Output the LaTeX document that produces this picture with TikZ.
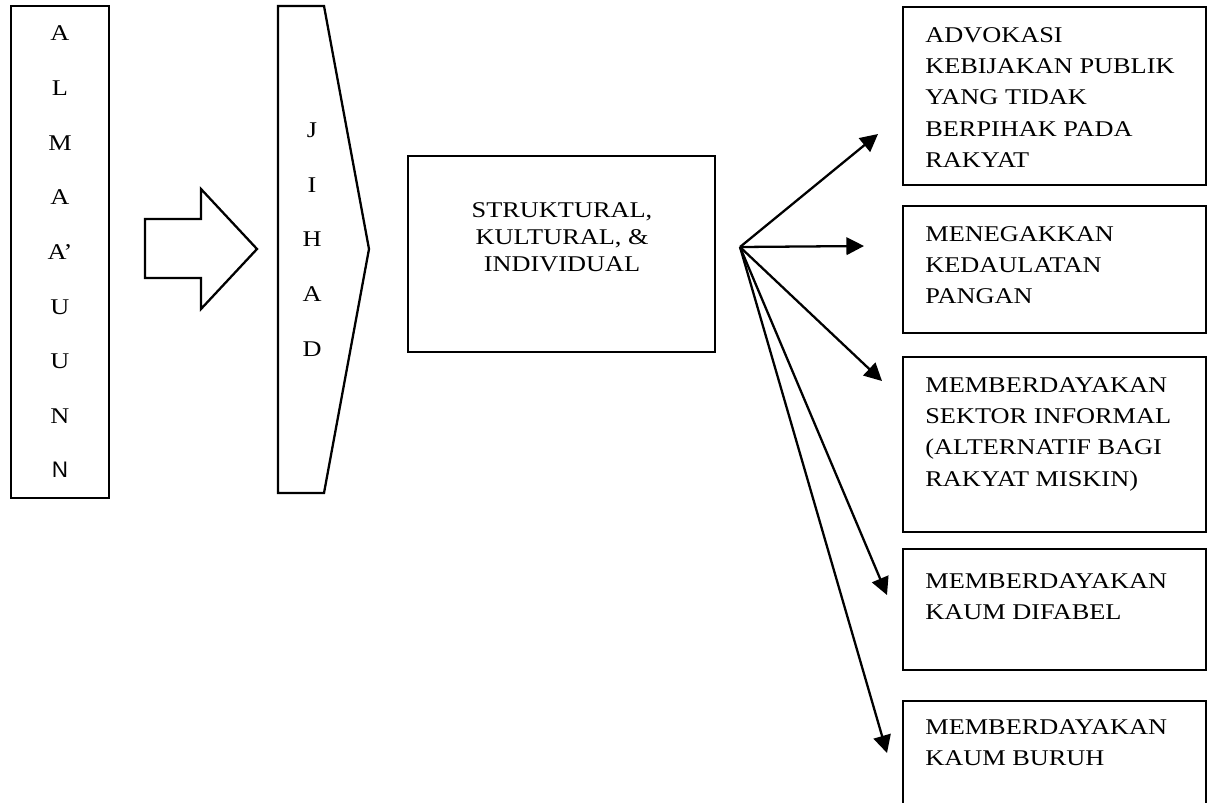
\documentclass[tikz,border=0pt]{standalone}
\usepackage{fontspec}
\setmainfont[FakeStretch=1.17]{Liberation Serif}
\setsansfont{Liberation Sans}
\usetikzlibrary{arrows.meta}

\tikzset{
  box/.style={draw, line width=1.3pt, inner sep=0pt},
  boxtext/.style={anchor=north west, inner sep=0pt, align=left, font=\fontsize{12.8}{17.8}\selectfont},
  letters/.style={align=center, font=\fontsize{12.8}{31.1}\selectfont},
  fan/.style={line width=1.3pt, -{Triangle[length=10pt,width=10pt]}}
}

\begin{document}
\begin{tikzpicture}[x=0.02cm, y=-0.02cm]
      \useasboundingbox (0,0) rectangle (1208,802);
      \clip (0,0) rectangle (1208,802);

      \node (alma) [box, letters, minimum width=1.96cm, minimum height=9.84cm] at (60,252)
        {A\\L\\M\\A\\A’\\U\\U\\N\\{\sffamily N}};

      % block arrow and jihad pointer
      \draw[line width=1.3pt] (145,219) -- (201,219) -- (201,189) -- (257,249)
        -- (201,309) -- (201,278) -- (145,278) -- cycle;
      \draw[line width=1.3pt] (278,6) -- (324,6) -- (369,249) -- (324,493) -- (278,493) -- cycle;
      \node (jihad) [letters, inner sep=0pt] at (312,239.5) {J\\I\\H\\A\\D};

      \node (core) [box, minimum width=6.14cm, minimum height=3.92cm] at (561.5,254) {};
      \node (coretext) [align=center, inner sep=0pt, font=\fontsize{12.8}{15.3}\selectfont] at (562,237)
        {STRUKTURAL,\\KULTURAL, \&\\INDIVIDUAL};

      \node (b1) [box, minimum width=6.06cm, minimum height=3.56cm] at (1054.5,96) {};
      \node (b2) [box, minimum width=6.06cm, minimum height=2.54cm] at (1054.5,269.5) {};
      \node (b3) [box, minimum width=6.06cm, minimum height=3.5cm] at (1054.5,444.5) {};
      \node (b4) [box, minimum width=6.06cm, minimum height=2.42cm] at (1054.5,609.5) {};
      \node (b5) [box, minimum width=6.06cm, minimum height=2.98cm] at (1054.5,775.5) {};

      \node (b1t) [boxtext] at (925,27) {ADVOKASI\\KEBIJAKAN PUBLIK\\YANG TIDAK\\BERPIHAK PADA\\RAKYAT};
      \node (b2t) [boxtext] at (925,226) {MENEGAKKAN\\KEDAULATAN\\PANGAN};
      \node (b3t) [boxtext] at (925,377) {MEMBERDAYAKAN\\SEKTOR INFORMAL\\(ALTERNATIF BAGI\\RAKYAT MISKIN)};
      \node (b4t) [boxtext] at (925,573) {MEMBERDAYAKAN\\KAUM DIFABEL};
      \node (b5t) [boxtext] at (925,719) {MEMBERDAYAKAN\\KAUM BURUH};

      \coordinate (hub) at (740,247);
      \coordinate (t1) at (878,134);
      \coordinate (t2) at (864,246);
      \coordinate (t3) at (882,381);
      \coordinate (t4) at (887,595);
      \coordinate (t5) at (887,753);

      \draw[fan] (hub) -- (t1);
      \draw[fan] (hub) -- (t2);
      \draw[fan] (hub) -- (t3);
      \draw[fan] (hub) -- (t4);
      \draw[fan] (hub) -- (t5);

    \end{tikzpicture}
\end{document}
